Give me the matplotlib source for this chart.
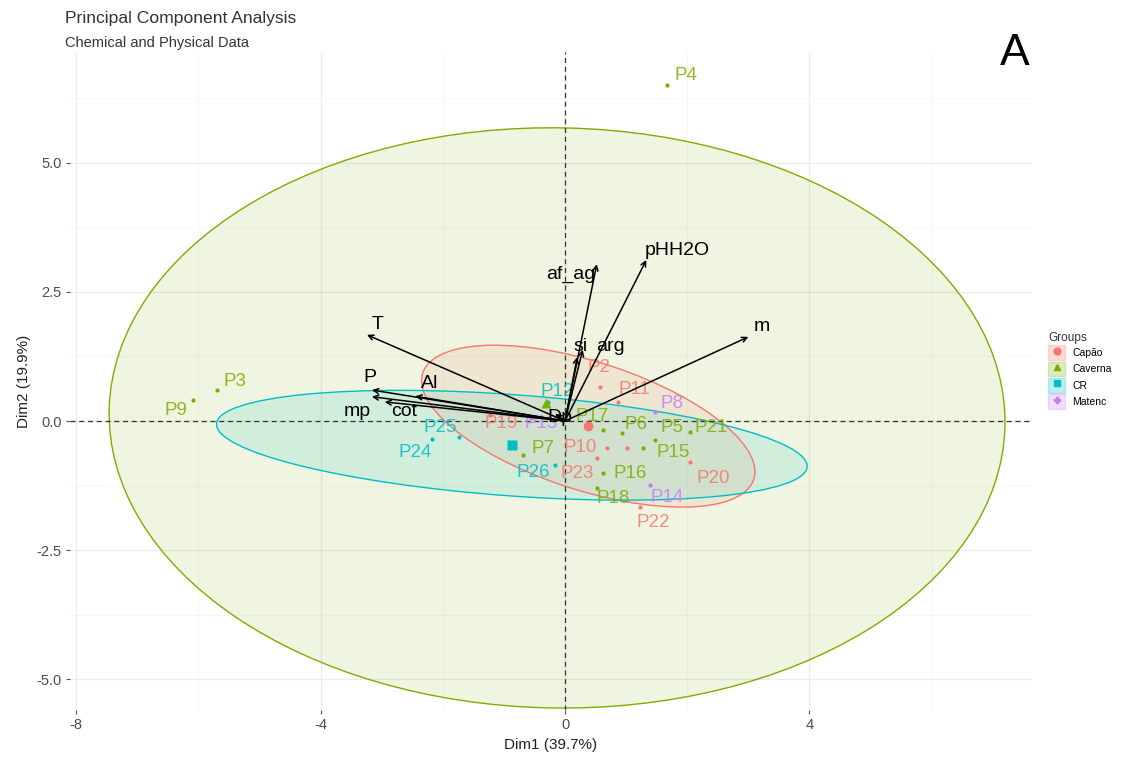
import matplotlib
matplotlib.use("Agg")
import matplotlib.pyplot as plt
from matplotlib.patches import Ellipse, Patch
from matplotlib.lines import Line2D

plt.rcParams['font.family'] = ['Liberation Sans', 'DejaVu Sans']
plt.rcParams['axes.unicode_minus'] = False

# --- data -------------------------------------------------------------------
groups = ['Capão', 'Caverna', 'CR', 'Matenc']
group_colors = ['#F8766D', '#7CAE00', '#00BFC4', '#C77CFF']
group_markers = ['o', '^', 's', 'P']

pt_names = ['P1', 'P2', 'P3', 'P4', 'P5', 'P6', 'P7', 'P8', 'P9', 'P10',
            'P11', 'P12', 'P13', 'P14', 'P15', 'P16', 'P17', 'P18', 'P19',
            'P20', 'P21', 'P22', 'P23', 'P24', 'P25', 'P26']
pt_group = ['Capão', 'Capão', 'Caverna', 'Caverna', 'Caverna', 'Caverna',
            'Caverna', 'Matenc', 'Caverna', 'Capão', 'Capão', 'CR', 'Matenc',
            'Matenc', 'Caverna', 'Caverna', 'Caverna', 'Caverna', 'Capão',
            'Capão', 'Caverna', 'Capão', 'Capão', 'CR', 'CR', 'CR']
pt_x = [1.01, 0.57, -5.70, 1.67, 1.47, 0.93, -0.69, 1.47, -6.09, 0.69,
        0.87, -0.28, -0.55, 1.39, 1.28, 0.62, 0.62, 0.52, -1.23,
        2.05, 2.05, 1.23, 0.52, -2.18, -1.73, -0.16]
pt_y = [-0.52, 0.66, 0.60, 6.51, -0.37, -0.23, -0.66, 0.17, 0.41, -0.52,
        0.37, 0.37, 0.06, -1.24, -0.52, -1.01, -0.17, -1.30, 0.12,
        -0.80, -0.21, -1.67, -0.72, -0.35, -0.31, -0.85]

group_mean_x = [0.38, -0.31, -0.87]
group_mean_y = [-0.10, 0.35, -0.47]

# confidence ellipses: centre, semi axes, rotation (deg)
ell_cx = [0.38, -0.13, -0.87]
ell_cy = [-0.10, 0.06, -0.47]
ell_a = [2.9, 7.33, 4.85]
ell_b = [1.22, 5.62, 0.98]
ell_ang = [-22, -1.5, -5]

var_names = ['T', 'P', 'mp', 'cot', 'Al', 'si', 'arg', 'af_ag', 'pHH2O', 'm', 'Dp']
var_x = [-3.24, -3.16, -3.16, -2.95, -2.45, 0.20, 0.29, 0.52, 1.33, 3.00, -0.16]
var_y = [1.67, 0.60, 0.47, 0.37, 0.48, 1.24, 1.38, 3.04, 3.12, 1.63, 0.14]

# --- label offsets (pixels) ---------------------------------------------------
pt_offsets = {'P1': None, 'P2': (-1, 19), 'P3': (18, 9), 'P4': (19, 10),
              'P5': (17, 13), 'P6': (14, 8), 'P7': (20, 7), 'P8': (17, 9),
              'P9': (-17, -11), 'P10': (-27, 0), 'P11': (16, 12),
              'P12': (9, 10), 'P13': (10, -6), 'P14': (17, -12),
              'P15': (30, -5), 'P16': (27, 0), 'P17': (-11, 13),
              'P18': (16, -10), 'P19': (11, -9), 'P20': (23, -16),
              'P21': (21, 4), 'P22': (13, -15), 'P23': (-20, -15),
              'P24': (-17, -13), 'P25': (-19, 10), 'P26': (-22, -8)}
var_offsets = {'T': (11, 10), 'P': (-2, 13), 'mp': (-15, -15),
               'cot': (19, -10), 'Al': (14, 13), 'si': (3, 11),
               'arg': (28, 3), 'af_ag': (-26, -10), 'pHH2O': (31, 9),
               'm': (13, 10), 'Dp': (5, -4)}

col_of = dict(zip(groups, group_colors))

fig = plt.figure(figsize=(11.34, 7.58), dpi=100)
ax = fig.add_axes([0.0617, 0.0633, 0.8483, 0.8681])

# panel / grid like theme_minimal
ax.set_xlim(-8.1, 7.64)
ax.set_ylim(-5.6, 7.15)
ax.set_xticks([-8, -4, 0, 4])
ax.set_xticks([-6, -2, 2, 6], minor=True)
ax.set_yticks([-5, -2.5, 0, 2.5, 5])
ax.set_yticks([-3.75, -1.25, 1.25, 3.75, 6.25], minor=True)
ax.set_yticklabels(['-5.0', '-2.5', '0.0', '2.5', '5.0'])
ax.grid(True, which='major', color='#EBEBEB', lw=0.9)
ax.grid(True, which='minor', color='#F3F3F3', lw=0.5)
ax.set_axisbelow(True)
for s in ax.spines.values():
    s.set_visible(False)
ax.tick_params(which='major', length=3, color='#555555', labelsize=10.5,
               labelcolor='#4D4D4D', pad=3)
ax.tick_params(which='minor', length=0)

# ellipses
for i, g in enumerate(groups[:3]):
    c = group_colors[i]
    ax.add_patch(Ellipse((ell_cx[i], ell_cy[i]), 2 * ell_a[i], 2 * ell_b[i],
                         angle=ell_ang[i], facecolor=c, alpha=0.12,
                         edgecolor='none', zorder=1))
    ax.add_patch(Ellipse((ell_cx[i], ell_cy[i]), 2 * ell_a[i], 2 * ell_b[i],
                         angle=ell_ang[i], facecolor='none', edgecolor=c,
                         lw=1.0, zorder=2))

ax.axhline(0, color='#333333', ls=(0, (4, 3)), lw=0.9, zorder=2)
ax.axvline(0, color='#333333', ls=(0, (4, 3)), lw=0.9, zorder=2)

# individuals
for n, g, x, y in zip(pt_names, pt_group, pt_x, pt_y):
    c = col_of[g]
    ax.plot(x, y, 'o', ms=3, color=c, mec='none', zorder=3)
    off = pt_offsets[n]
    if off is not None:
        ax.annotate(n, (x, y), xytext=off, textcoords='offset pixels',
                    ha='center', va='center', fontsize=13.5, color=c,
                    alpha=0.85, zorder=3)

# group means
for i in range(3):
    ax.plot(group_mean_x[i], group_mean_y[i], group_markers[i], ms=7,
            color=group_colors[i], mec='none', zorder=4)

# variables
for n, x, y in zip(var_names, var_x, var_y):
    ax.annotate('', xy=(x, y), xytext=(0, 0),
                arrowprops=dict(arrowstyle='->', color='black', lw=1.1,
                                shrinkA=0, shrinkB=0, mutation_scale=9),
                zorder=5)
    dx, dy = var_offsets[n]
    ax.annotate(n, (x, y), xytext=(dx, dy), textcoords='offset pixels',
                ha='center', va='center', fontsize=14, color='black',
                zorder=6)

ax.set_xlabel('Dim1 (39.7%)', fontsize=11, color='#222222', labelpad=4)
ax.set_ylabel('Dim2 (19.9%)', fontsize=11, color='#222222', labelpad=4)

fig.text(0.0573, 0.976, 'Principal Component Analysis', fontsize=12.6,
         color='#333333', va='center')
fig.text(0.0573, 0.943, 'Chemical and Physical Data', fontsize=10.5,
         color='#333333', va='center')
fig.text(0.895, 0.914, 'A', fontsize=32, color='black', ha='center')

# legend
handles = []
for i, g in enumerate(groups):
    c = group_colors[i]
    box = Patch(facecolor=c, alpha=0.25, edgecolor=c, lw=1.0)
    mk = Line2D([], [], marker=group_markers[i], color=c, ls='none', ms=5)
    handles.append((box, mk))
leg = fig.legend(handles, groups, loc='upper left',
                 bbox_to_anchor=(0.918, 0.572), frameon=False,
                 title='Groups', fontsize=7.5, title_fontsize=8.5,
                 handlelength=1.6, handleheight=1.8, handletextpad=0.7,
                 labelspacing=0.15, borderpad=0.2)
leg._legend_box.align = 'left'
leg.get_title().set_color('#333333')

fig.savefig('out.png', dpi=100)
